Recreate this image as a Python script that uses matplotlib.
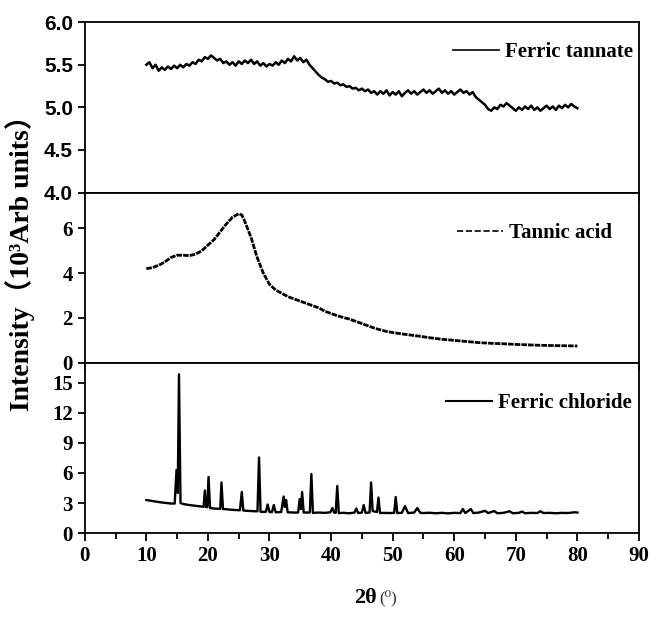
import matplotlib.pyplot as plt
from matplotlib.lines import Line2D
from matplotlib.ticker import MultipleLocator

# Ferric tannate, 0.5 degree steps from 10 to 80
ft_x = [10 + 0.5 * i for i in range(141)]
ft_y = [5.50, 5.53, 5.46, 5.50, 5.43, 5.47, 5.44, 5.48, 5.45, 5.49,
        5.46, 5.50, 5.47, 5.51, 5.49, 5.53, 5.51, 5.56, 5.54, 5.59,
        5.57, 5.61, 5.58, 5.55, 5.57, 5.52, 5.54, 5.50, 5.53, 5.49,
        5.54, 5.51, 5.55, 5.52, 5.56, 5.51, 5.54, 5.49, 5.52, 5.48,
        5.51, 5.49, 5.53, 5.50, 5.55, 5.52, 5.57, 5.54, 5.60, 5.55,
        5.58, 5.53, 5.56, 5.50, 5.46, 5.42, 5.38, 5.35, 5.33, 5.30,
        5.31, 5.28, 5.29, 5.26, 5.27, 5.24, 5.25, 5.22, 5.23, 5.20,
        5.22, 5.19, 5.21, 5.17, 5.19, 5.15, 5.19, 5.16, 5.20, 5.14,
        5.18, 5.15, 5.19, 5.13, 5.17, 5.20, 5.16, 5.19, 5.15, 5.18,
        5.21, 5.17, 5.20, 5.16, 5.19, 5.22, 5.17, 5.20, 5.16, 5.19,
        5.15, 5.18, 5.21, 5.17, 5.19, 5.15, 5.18, 5.12, 5.09, 5.06,
        5.03, 4.98, 4.96, 5.00, 4.98, 5.03, 5.01, 5.05, 5.02, 4.99,
        4.96, 5.00, 4.97, 5.01, 4.98, 5.02, 4.97, 5.00, 4.96, 4.99,
        5.02, 4.98, 5.01, 4.97, 5.02, 4.99, 5.03, 5.00, 5.04, 5.01,
        4.99]

# Tannic acid
ta_x = [10, 11, 12, 13, 14, 15, 16, 17, 18, 19, 20, 21, 22, 23, 24, 25,
        25.5, 26, 27, 28, 29, 30, 31, 32, 33, 34, 35, 36, 37, 38, 39, 40,
        41, 42, 43, 44, 45, 46, 47, 48, 49, 50, 52, 54, 56, 58, 60, 62,
        64, 66, 68, 70, 72, 74, 76, 78, 80]
ta_y = [4.20, 4.25, 4.35, 4.50, 4.70, 4.80, 4.80, 4.78, 4.85, 5.00, 5.25,
        5.50, 5.85, 6.20, 6.50, 6.65, 6.60, 6.30, 5.60, 4.70, 4.00, 3.50,
        3.25, 3.10, 2.95, 2.85, 2.75, 2.65, 2.55, 2.45, 2.30, 2.20, 2.10,
        2.02, 1.95, 1.85, 1.75, 1.65, 1.55, 1.47, 1.40, 1.35, 1.27, 1.20,
        1.12, 1.05, 1.00, 0.95, 0.90, 0.87, 0.85, 0.82, 0.80, 0.78, 0.77,
        0.76, 0.75]

# Ferric chloride
fc_x = [10.0, 11.0, 12.0, 13.0, 14.0, 14.6, 14.9, 15.1, 15.3, 15.55,
        16.0, 17.0, 18.0, 19.0, 19.3, 19.5, 19.7, 19.9, 20.1, 20.35,
        21.0, 22.0, 22.2, 22.45, 23.0, 24.0, 25.2, 25.5, 25.75, 26.5,
        27.5, 28.05, 28.3, 28.55, 29.4, 29.7, 30.0, 30.4, 30.7, 31.0,
        31.9, 32.3, 32.5, 32.7, 32.95, 34.0, 34.65, 34.9, 35.1, 35.3,
        35.55, 36.55, 36.8, 37.05, 38.0, 39.0, 39.9, 40.2, 40.5, 40.75,
        41.0, 41.25, 42.0, 43.0, 43.8, 44.1, 44.4, 45.0, 45.3, 45.6,
        46.25, 46.5, 46.75, 47.45, 47.7, 47.95, 48.5, 49.5, 50.25, 50.5,
        50.75, 51.5, 52.0, 52.5, 53.5, 54.0, 54.5, 55.0, 56.0, 57.0,
        58.0, 59.0, 60.0, 61.0, 61.4, 61.8, 62.7, 63.1, 64.0, 65.0,
        65.5, 66.5, 67.0, 68.0, 69.0, 69.5, 70.5, 71.0, 71.5, 72.5,
        73.5, 74.0, 74.5, 75.5, 76.5, 77.5, 78.5, 79.5, 80.0]
fc_y = [3.30, 3.20, 3.10, 3.02, 2.95, 2.95, 6.30, 4.00, 15.85, 3.00,
        2.90, 2.80, 2.72, 2.65, 2.62, 4.25, 2.60, 2.58, 5.60, 2.50,
        2.45, 2.42, 5.05, 2.40, 2.38, 2.32, 2.28, 4.10, 2.25, 2.22,
        2.18, 2.18, 7.55, 2.12, 2.12, 2.85, 2.10, 2.10, 2.80, 2.08,
        2.10, 3.65, 2.60, 3.30, 2.08, 2.05, 2.05, 3.40, 2.40, 4.10,
        2.05, 2.05, 5.90, 2.02, 2.05, 2.02, 2.08, 2.50, 2.05, 2.02,
        4.70, 2.00, 2.02, 1.98, 2.05, 2.45, 2.00, 2.05, 2.80, 2.02,
        2.05, 5.05, 2.20, 2.10, 3.55, 2.00, 2.02, 2.00, 2.02, 3.60,
        2.00, 2.02, 2.70, 2.00, 2.05, 2.50, 2.02, 2.00, 2.03, 1.98,
        2.02, 1.97, 2.02, 2.00, 2.40, 2.00, 2.40, 2.00, 2.05, 2.22,
        2.00, 2.20, 1.98, 2.02, 2.18, 1.98, 2.02, 2.15, 1.98, 2.02,
        2.00, 2.18, 2.00, 2.02, 1.98, 2.02, 2.00, 2.08, 2.05]

serif = 'Liberation Serif'
sans = 'Liberation Sans'

fig, axes = plt.subplots(3, 1, figsize=(6.52, 6.17), dpi=100, sharex=True)
fig.subplots_adjust(left=0.130, right=0.980, top=0.964, bottom=0.136, hspace=0)
ax1, ax2, ax3 = axes

ax1.plot(ft_x, ft_y, color='black', lw=1.8)
ax2.plot(ta_x, ta_y, color='black', lw=2.0, linestyle=(0, (2, 0.4)))
ax3.plot(fc_x, fc_y, color='black', lw=1.7)

ax1.set_ylim(4.0, 6.0)
ax1.yaxis.set_major_locator(MultipleLocator(0.5))
ax2.set_ylim(0, 7.6)
ax2.set_yticks([0, 2, 4, 6])
ax3.set_ylim(0, 17)
ax3.set_yticks([0, 3, 6, 9, 12, 15])

ax3.set_xlim(0, 90)
ax3.xaxis.set_major_locator(MultipleLocator(10))
ax3.xaxis.set_minor_locator(MultipleLocator(5))

for ax in axes:
    for s in ax.spines.values():
        s.set_linewidth(1.3)
    ax.tick_params(axis='x', which='major', direction='out', length=6, width=1.3)
    ax.tick_params(axis='x', which='minor', direction='out', length=4, width=1.3)
    ax.tick_params(axis='y', direction='out', length=5, width=1.3)

for lab in ax1.get_yticklabels():
    lab.set_fontfamily(sans)
    lab.set_fontweight('bold')
    lab.set_fontsize(15)
for ax in (ax2, ax3):
    for lab in ax.get_yticklabels():
        lab.set_fontfamily(serif)
        lab.set_fontweight('bold')
        lab.set_fontsize(15)
for lab in ax3.get_xticklabels():
    lab.set_fontfamily(serif)
    lab.set_fontweight('bold')
    lab.set_fontsize(15)

leg_font = {'family': serif, 'weight': 'bold', 'size': 15}
common = dict(frameon=False, prop=leg_font, handlelength=2.2, handletextpad=0.3,
              borderaxespad=0, borderpad=0, loc='upper right')
ax1.legend([Line2D([], [], color='black', lw=1.2)], ['Ferric tannate'],
           bbox_to_anchor=(0.99, 0.885), **common)
ax2.legend([Line2D([], [], color='black', lw=1.2, linestyle='--')], ['Tannic acid'],
           bbox_to_anchor=(0.951, 0.82), **common)
ax3.legend([Line2D([], [], color='black', lw=1.5)], ['Ferric chloride'],
           bbox_to_anchor=(0.987, 0.82), **common)

fig.text(0.031, 0.585, 'Intensity（10³Arb units）', rotation=90, ha='center', va='center',
         fontsize=20, fontweight='bold', family=[serif, 'Noto Sans CJK SC'])
fig.text(0.578, 0.03, '2θ', ha='right', va='center',
         fontsize=16, fontweight='bold', family=[serif, 'DejaVu Serif'])
fig.text(0.581, 0.03, '(⁰)', ha='left', va='center',
         fontsize=12, color='#333333', family=[serif, 'DejaVu Serif'])

fig.savefig('out.png')
